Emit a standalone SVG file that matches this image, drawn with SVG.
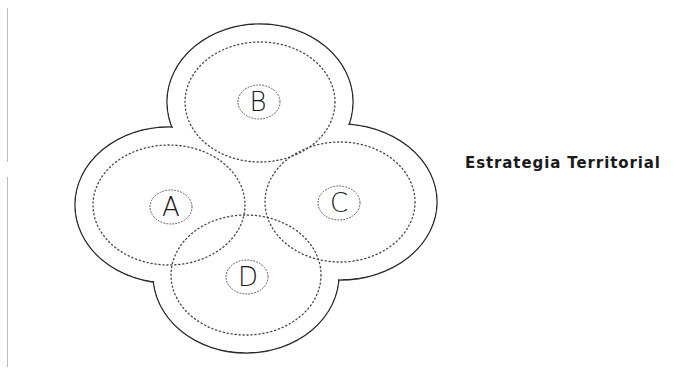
<svg xmlns="http://www.w3.org/2000/svg" width="682" height="368" viewBox="0 0 682 368">
  <style>
    .outline { fill: none; stroke: #2a2a2a; stroke-width: 1.4; }
    .cover { fill: #ffffff; stroke: none; }
    .zone { fill: none; stroke: #444; stroke-width: 1.3; stroke-dasharray: 1.2 2.8; stroke-linecap: round; }
    .core { fill: none; stroke: #555; stroke-width: 1; stroke-dasharray: 1 2; stroke-linecap: round; }
    .letter { font-family: "DejaVu Sans", "Liberation Sans", sans-serif; font-weight: 200; font-size: 26px; fill: #1a1a1a; text-anchor: middle; }
    .title { font-family: "DejaVu Sans", "Liberation Sans", sans-serif; font-weight: bold; font-size: 15px; fill: #1a1a1a; }
  </style>
  <rect width="682" height="368" fill="#ffffff"/>

  <!-- margin rule -->
  <line x1="7.5" y1="8" x2="7.5" y2="162" stroke="#bbb" stroke-width="1"/>
  <line x1="7.5" y1="177" x2="7.5" y2="367" stroke="#bbb" stroke-width="1"/>

  <!-- territory outline: union of four lobes -->
  <g id="territory">
    <ellipse class="outline" cx="260" cy="102" rx="93" ry="78"/>
    <ellipse class="outline" cx="169" cy="205" rx="94" ry="78"/>
    <ellipse class="outline" cx="340" cy="202" rx="97" ry="78"/>
    <ellipse class="outline" cx="246" cy="275" rx="93" ry="78"/>
    <ellipse class="cover" cx="260" cy="102" rx="92.3" ry="77.3"/>
    <ellipse class="cover" cx="169" cy="205" rx="93.3" ry="77.3"/>
    <ellipse class="cover" cx="340" cy="202" rx="96.3" ry="77.3"/>
    <ellipse class="cover" cx="246" cy="275" rx="92.3" ry="77.3"/>
  </g>

  <g id="node-B">
    <ellipse class="zone" cx="260" cy="102" rx="75" ry="60"/>
    <ellipse class="core" cx="259" cy="102" rx="21" ry="17"/>
    <text class="letter" x="258" y="111">B</text>
  </g>
  <g id="node-A">
    <ellipse class="zone" cx="169" cy="205" rx="76" ry="60"/>
    <ellipse class="core" cx="171" cy="207" rx="21" ry="17"/>
    <text class="letter" x="171" y="216">A</text>
  </g>
  <g id="node-C">
    <ellipse class="zone" cx="340" cy="202" rx="75" ry="60"/>
    <ellipse class="core" cx="339" cy="203" rx="21" ry="17"/>
    <text class="letter" x="339" y="212">C</text>
  </g>
  <g id="node-D">
    <ellipse class="zone" cx="246" cy="275" rx="75" ry="60"/>
    <ellipse class="core" cx="247" cy="277" rx="21" ry="17"/>
    <text class="letter" x="248" y="286">D</text>
  </g>

  <g id="connectors"/>

  <text class="title" x="465" y="168" textLength="195" lengthAdjust="spacing">Estrategia Territorial</text>
</svg>
